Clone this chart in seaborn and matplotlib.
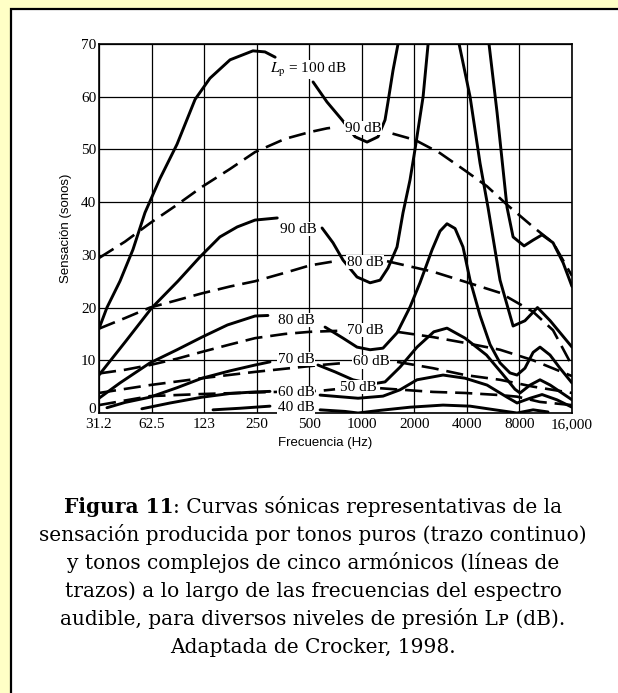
"""
Curvas sonicas: sensacion (sonos) frente a frecuencia para tonos puros
(trazo continuo) y tonos complejos (trazos). Adaptada de Crocker, 1998.
"""

import matplotlib
matplotlib.use('Agg')
import matplotlib.pyplot as plt
import matplotlib.transforms as mtransforms
import seaborn as sns
from matplotlib.patches import Rectangle
from matplotlib.ticker import NullLocator

# ---- ejes ----
frec_ticks = [31.25, 62.5, 125, 250, 500, 1000, 2000, 4000, 8000, 16000]
frec_labels = ['31.2', '62.5', '123', '250', '500', '1000', '2000', '4000', '8000', '16,000']
sonos_ticks = [0, 10, 20, 30, 40, 50, 60, 70]

# ---- tonos puros (trazo continuo) ----
p100a_f = [31.25, 34.7, 41.2, 48.9, 57.3, 69.9, 87.5, 111, 135, 176, 238, 279, 319]
p100a_s = [16, 20, 25, 31, 38, 44.5, 51, 59.5, 63.5, 67, 68.7, 68.5, 67.5]
p100b_f = [526, 632, 771, 916, 1072, 1239, 1359, 1413, 1510, 1613, 1700]
p100b_s = [62.8, 59, 55.6, 52.4, 51.4, 52.4, 55.6, 59, 65, 70, 76]
p100c_f = [5147, 5356, 5955, 6793, 7356, 8504, 9580, 10780, 12460, 14230, 16000]
p100c_s = [78, 70, 57, 39, 33.4, 31.7, 32.8, 33.8, 32.3, 28.5, 24]

p90a_f = [31.25, 44.2, 62.5, 88.4, 118.3, 153.9, 193.5, 244.7, 328]
p90a_s = [7.2, 13.5, 19.9, 25, 29.6, 33.4, 35.3, 36.6, 37]
p90b_f = [592, 684, 781, 939, 1116, 1273, 1413, 1592, 1723, 1889, 2018, 2245, 2398, 2530]
p90b_s = [35.1, 32.3, 29, 25.8, 24.7, 25.2, 27.5, 31.5, 38, 44.2, 50, 60, 70, 78]
p90c_f = [3470, 3610, 4171, 4757, 5285, 6193, 7356, 8600, 10150, 12000, 16000]
p90c_s = [78, 70, 60, 47.4, 39, 25.2, 16.5, 17.5, 20, 17.5, 12.5]

p80a_f = [31.25, 41.2, 61.2, 87.5, 121.6, 170, 244.7, 290]
p80a_s = [2.8, 5.7, 9.5, 12, 14.4, 16.7, 18.4, 18.5]
p80b_f = [616, 781, 939, 1116, 1323, 1592, 1889, 2155, 2530, 2806, 3077, 3423, 3800,
          4171, 4757, 5428, 6193, 7065, 7750, 8600, 9580, 10493, 11972, 13655, 16000]
p80b_s = [16.3, 14.2, 12.5, 12, 12.3, 15.2, 20.1, 24.7, 31, 34.5, 35.9, 35, 31.5,
          25.2, 18.5, 13, 9.5, 7.6, 7.2, 8.5, 11.5, 12.5, 11, 8.5, 5.7]

p70a_f = [34.7, 44, 61.2, 87.5, 121.6, 176, 244.7, 298]
p70a_s = [1, 2, 3, 4.8, 6.6, 8, 9.1, 9.7]
p70b_f = [561, 703, 890, 1044, 1192, 1359, 1656, 2072, 2585, 3077, 3904, 5180, 6360,
          7543, 8061, 9200, 10493, 12000, 14000, 16000]
p70b_s = [9.1, 7.8, 6.3, 5.8, 5.6, 5.9, 8.7, 12.5, 15.4, 16.1, 14.2, 11, 7.5,
          4.5, 3.8, 5.3, 6.3, 5.3, 3.8, 2.5]

p60a_f = [55, 79.8, 121.6, 176, 244.7, 298]
p60a_s = [0.8, 1.9, 3, 3.7, 4, 4.1]
p60b_f = [577, 952, 1323, 1656, 2072, 2921, 3904, 5217, 6793, 7750, 9200, 10780, 13120, 16000]
p60b_s = [3.4, 2.8, 3.2, 4.4, 6.3, 7.2, 6.6, 5.3, 3, 1.9, 2.8, 3.5, 2.5, 1.1]

p40a_f = [140.6, 200.8, 298]
p40a_s = [0.6, 0.9, 1.3]
p40b_f = [577, 802, 952, 1273, 1889, 2921, 4171, 5800, 7750, 9580, 11660]
p40b_s = [0.6, 0.3, 0, 0.5, 1.1, 1.5, 1.3, 0.6, 0, 0.6, 0.2]

# ---- tonos complejos (trazos) ----
c90a_f = [31.25, 44, 61.2, 87.5, 121.6, 176, 244.7, 363, 505, 632, 703]
c90a_s = [29.4, 32.5, 36, 39.5, 42.9, 46.3, 49.5, 52, 53.3, 54, 54.2]
c90b_f = [1500, 2018, 2806, 3904, 5217, 6793, 9580, 12460, 16000]
c90b_s = [53, 51.8, 49.3, 46, 43, 39.5, 35.3, 32.3, 26]

c80a_f = [31.25, 44, 61.2, 87.5, 121.6, 176, 244.7, 363, 505, 703]
c80a_s = [16, 18, 20, 21.4, 22.7, 24, 25, 26.6, 28, 28.8]
c80b_f = [1395, 2560, 3904, 6193, 9580, 12460, 16000]
c80b_s = [28.8, 26.8, 24.9, 22.8, 19.2, 15.7, 9]

c70a_f = [31.25, 44, 61.2, 87.5, 121.6, 176, 244.7, 363, 505, 751]
c70a_s = [7.5, 8.2, 9.1, 10.3, 11.6, 13, 14.2, 15, 15.4, 15.6]
c70b_f = [1592, 2560, 3904, 6193, 9580, 16000]
c70b_s = [15.4, 14.4, 13.3, 12, 10, 7]

c60a_f = [31.25, 61.2, 121.6, 244.7, 577, 802]
c60a_s = [3.8, 5.3, 6.6, 7.8, 9.1, 9.5]
c60b_f = [1592, 2560, 3904, 6193, 9580, 16000]
c60b_s = [9.7, 8.5, 7.2, 6.3, 5, 3.8]

c50a_f = [31.25, 61.2, 121.6, 244.7, 577, 703]
c50a_s = [1.5, 3.2, 3.6, 3.9, 4.2, 4.5]
c50b_f = [1273, 2560, 3904, 6193, 7750, 10493, 16000]
c50b_s = [4.7, 4, 3.8, 3.4, 3.1, 2.1, 1.5]

puros = [(p100a_f, p100a_s), (p100b_f, p100b_s), (p100c_f, p100c_s),
         (p90a_f, p90a_s), (p90b_f, p90b_s), (p90c_f, p90c_s),
         (p80a_f, p80a_s), (p80b_f, p80b_s),
         (p70a_f, p70a_s), (p70b_f, p70b_s),
         (p60a_f, p60a_s), (p60b_f, p60b_s),
         (p40a_f, p40a_s), (p40b_f, p40b_s)]
complejos = [(c90a_f, c90a_s), (c90b_f, c90b_s),
             (c80a_f, c80a_s), (c80b_f, c80b_s),
             (c70a_f, c70a_s), (c70b_f, c70b_s),
             (c60a_f, c60a_s), (c60b_f, c60b_s),
             (c50a_f, c50a_s), (c50b_f, c50b_s)]

# etiquetas de nivel (texto, frecuencia del borde izquierdo, sonos)
etiquetas = [(r'$L_{\rm p}$ = 100 dB', 298, 65.1),
             ('90 dB', 802, 54.0), ('90 dB', 340, 34.9),
             ('80 dB', 823, 28.6), ('80 dB', 331, 17.6),
             ('70 dB', 823, 15.7), ('70 dB', 331, 10.2),
             ('60 dB', 890, 9.7), ('60 dB', 331, 3.8),
             ('50 dB', 751, 4.9), ('40 dB', 331, 1.1)]

pie = ['sensación producida por tonos puros (trazo continuo)',
       'y tonos complejos de cinco armónicos (líneas de',
       'trazos) a lo largo de las frecuencias del espectro',
       'audible, para diversos niveles de presión Lᴘ (dB).',
       'Adaptada de Crocker, 1998.']

sns.set_theme(style='white')
plt.rcParams['font.family'] = ['Liberation Serif', 'DejaVu Serif']
plt.rcParams['mathtext.fontset'] = 'stix'
plt.rcParams['text.color'] = 'black'

W, H = 618, 693
fig = plt.figure(figsize=(W / 100, H / 100), dpi=100)
fig.patch.set_facecolor('#FFFFC6')
fig.add_artist(Rectangle((11 / W, -0.02), 1.05, (H - 9) / H + 0.02, transform=fig.transFigure,
                         facecolor='white', edgecolor='black', lw=1.6, zorder=-5))

ax = fig.add_axes([99 / W, (H - 413) / H, 473 / W, 369 / H])
ax.set_facecolor('none')

for f, s in puros:
    sns.lineplot(x=f, y=s, ax=ax, color='black', lw=2.1, sort=False,
                 estimator=None, legend=False, zorder=3)
for f, s in complejos:
    sns.lineplot(x=f, y=s, ax=ax, color='black', lw=1.9, sort=False,
                 estimator=None, legend=False, zorder=3, linestyle=(0, (6.5, 3)))

for txt, f, s in etiquetas:
    ax.text(f, s, txt, fontsize=11, ha='left', va='center', zorder=4,
            bbox=dict(facecolor='white', edgecolor='none', pad=0.4))

ax.set_xscale('log', base=2)
ax.set_xlim(31.25, 16000)
ax.set_ylim(0, 70)
ax.set_xticks(frec_ticks)
ax.set_xticklabels(frec_labels)
ax.xaxis.set_minor_locator(NullLocator())
ax.set_yticks(sonos_ticks)
ax.tick_params(axis='both', length=0, labelsize=11, labelcolor='black')
ax.tick_params(axis='x', pad=3.5)
ax.tick_params(axis='y', pad=2)
ax.grid(True, color='black', lw=0.9, zorder=1)
ax.set_axisbelow(True)
for sp in ax.spines.values():
    sp.set_color('black')
    sp.set_linewidth(1.2)

# el "0" queda un poco por encima del eje, como en el original
cero = ax.get_yticklabels()[0]
cero.set_transform(cero.get_transform() + mtransforms.ScaledTranslation(0, 3.5 / 72, fig.dpi_scale_trans))

ax.set_xlabel('Frecuencia (Hz)', family='Liberation Sans', fontsize=9.5, color='black')
ax.set_ylabel('Sensación (sonos)', family='Liberation Sans', fontsize=9.5, color='black')
ax.xaxis.set_label_coords(0.478, -0.066)
ax.yaxis.set_label_coords(-0.057, 0.5)

# pie de figura
cap_font = ['DejaVu Serif', 'DejaVu Sans']
cap_size = 14.5
cx = 313
t1 = fig.text(0, 1 - 513 / H, 'Figura 11', fontsize=cap_size, weight='bold',
              family=cap_font, va='baseline', ha='left', color='black')
t2 = fig.text(0, 1 - 513 / H, ': Curvas sónicas representativas de la', fontsize=cap_size,
              family=cap_font, va='baseline', ha='left', color='black')
fig.canvas.draw()
r = fig.canvas.get_renderer()
w1 = t1.get_window_extent(r).width
w2 = t2.get_window_extent(r).width
x0 = cx - (w1 + w2) / 2
t1.set_x(x0 / W)
t2.set_x((x0 + w1) / W)
for i, linea in enumerate(pie):
    fig.text(cx / W, 1 - (541 + 28 * i) / H, linea, fontsize=cap_size, family=cap_font,
             va='baseline', ha='center', color='black')

fig.savefig('out.png', dpi=100, facecolor=fig.get_facecolor())
